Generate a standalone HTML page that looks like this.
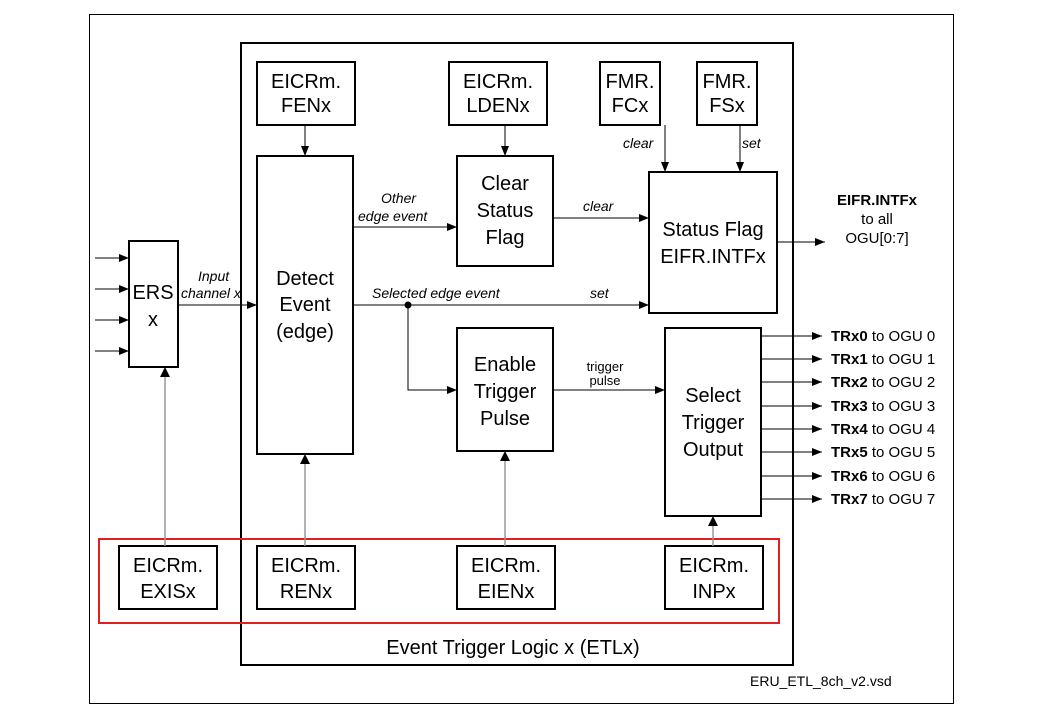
<!DOCTYPE html>
<html><head><style>
body{margin:0;background:#fff;}
svg text{font-family:"Liberation Sans",sans-serif;}
</style></head><body>
<svg width="1041" height="707" viewBox="0 0 1041 707" xmlns="http://www.w3.org/2000/svg">
<defs>
<marker id="a" markerWidth="10" markerHeight="8" refX="10" refY="4" orient="auto" markerUnits="userSpaceOnUse"><path d="M0,0 L10,4 L0,8z" fill="#000"/></marker>
</defs>
<rect x="89.5" y="14.5" width="864" height="689" fill="none" stroke="#000" stroke-width="1"/>
<rect x="241" y="43" width="552" height="622" fill="none" stroke="#000" stroke-width="2"/>
<rect x="99" y="539" width="680" height="84" fill="none" stroke="#e02020" stroke-width="2"/>
<g fill="#fff" stroke="#000" stroke-width="2">
<rect x="257" y="62" width="98" height="63"/>
<rect x="449" y="62" width="98" height="63"/>
<rect x="600" y="62" width="60" height="63"/>
<rect x="697" y="62" width="60" height="63"/>
<rect x="257" y="156" width="96" height="298"/>
<rect x="457" y="156" width="96" height="110"/>
<rect x="649" y="172" width="128" height="141"/>
<rect x="457" y="328" width="96" height="123"/>
<rect x="665" y="328" width="96" height="188"/>
<rect x="129" y="241" width="49" height="126"/>
<rect x="119" y="546" width="98" height="63"/>
<rect x="257" y="546" width="98" height="63"/>
<rect x="457" y="546" width="98" height="63"/>
<rect x="665" y="546" width="98" height="63"/>
</g>
<g stroke="#999" stroke-width="1.5">
<line x1="165" y1="546" x2="165" y2="377"/><line x1="305" y1="546" x2="305" y2="464"/><line x1="505" y1="546" x2="505" y2="461"/><line x1="713" y1="546" x2="713" y2="526"/>
</g>
<g fill="#000"><path d="M160,377 L165,367 L170,377z"/><path d="M300,464 L305,454 L310,464z"/><path d="M500,461 L505,451 L510,461z"/><path d="M708,526 L713,516 L718,526z"/></g>
<g stroke="#000" stroke-width="1" marker-end="url(#a)">
<line x1="95" y1="258" x2="129" y2="258"/><line x1="95" y1="289" x2="129" y2="289"/><line x1="95" y1="320" x2="129" y2="320"/><line x1="95" y1="351" x2="129" y2="351"/>
<line x1="178" y1="305" x2="257" y2="305"/>
<line x1="353" y1="227" x2="457" y2="227"/>
<line x1="553" y1="218" x2="649" y2="218"/>
<line x1="353" y1="305" x2="649" y2="305"/>
<polyline points="408,305 408,390 457,390" fill="none"/>
<line x1="553" y1="390" x2="665" y2="390"/>
<line x1="777" y1="242" x2="825" y2="242"/>
<line x1="305" y1="125" x2="305" y2="156"/><line x1="505" y1="125" x2="505" y2="156"/>
<line x1="665" y1="125" x2="665" y2="172"/><line x1="740" y1="125" x2="740" y2="172"/>
<line x1="761" y1="336" x2="822" y2="336"/><line x1="761" y1="359" x2="822" y2="359"/><line x1="761" y1="382" x2="822" y2="382"/><line x1="761" y1="406" x2="822" y2="406"/><line x1="761" y1="429" x2="822" y2="429"/><line x1="761" y1="452" x2="822" y2="452"/><line x1="761" y1="476" x2="822" y2="476"/><line x1="761" y1="499" x2="822" y2="499"/>
</g>
<circle cx="408" cy="305" r="3.5" fill="#000"/>
<g font-size="20" text-anchor="middle" fill="#000">
<text x="306" y="88">EICRm.</text><text x="306" y="112">FENx</text>
<text x="498" y="88">EICRm.</text><text x="498" y="112">LDENx</text>
<text x="630" y="88">FMR.</text><text x="630" y="112">FCx</text>
<text x="727" y="88">FMR.</text><text x="727" y="112">FSx</text>
<text x="505" y="190">Clear</text><text x="505" y="217">Status</text><text x="505" y="244">Flag</text>
<text x="305" y="285">Detect</text><text x="305" y="311">Event</text><text x="305" y="338">(edge)</text>
<text x="713" y="236">Status Flag</text><text x="713" y="263">EIFR.INTFx</text>
<text x="505" y="371">Enable</text><text x="505" y="398">Trigger</text><text x="505" y="425">Pulse</text>
<text x="713" y="402">Select</text><text x="713" y="429">Trigger</text><text x="713" y="456">Output</text>
<text x="153" y="299">ERS</text><text x="153" y="326">x</text>
<text x="168" y="572">EICRm.</text><text x="168" y="598">EXISx</text>
<text x="306" y="572">EICRm.</text><text x="306" y="598">RENx</text>
<text x="506" y="572">EICRm.</text><text x="506" y="598">EIENx</text>
<text x="714" y="572">EICRm.</text><text x="714" y="598">INPx</text>
<text x="513" y="654">Event Trigger Logic x (ETLx)</text>
</g>
<g font-size="14" font-style="italic" fill="#000">
<text x="198" y="281">Input</text><text x="181" y="298">channel x</text>
<text x="381" y="203">Other</text><text x="358" y="221">edge event</text>
<text x="583" y="211">clear</text>
<text x="372" y="298">Selected  edge event</text>
<text x="590" y="298">set</text>
<text x="623" y="148">clear</text>
<text x="742" y="148">set</text>
</g>
<g font-size="13" text-anchor="middle" fill="#000">
<text x="605" y="371">trigger</text><text x="605" y="385">pulse</text>
</g>
<g font-size="15" text-anchor="middle" fill="#000">
<text x="877" y="205" font-weight="bold">EIFR.INTFx</text>
<text x="877" y="224">to all</text>
<text x="877" y="243">OGU[0:7]</text>
</g>
<g font-size="15" fill="#000">
<text x="831" y="341"><tspan font-weight="bold">TRx0</tspan> to OGU 0</text>
<text x="831" y="364"><tspan font-weight="bold">TRx1</tspan> to OGU 1</text>
<text x="831" y="387"><tspan font-weight="bold">TRx2</tspan> to OGU 2</text>
<text x="831" y="411"><tspan font-weight="bold">TRx3</tspan> to OGU 3</text>
<text x="831" y="434"><tspan font-weight="bold">TRx4</tspan> to OGU 4</text>
<text x="831" y="457"><tspan font-weight="bold">TRx5</tspan> to OGU 5</text>
<text x="831" y="481"><tspan font-weight="bold">TRx6</tspan> to OGU 6</text>
<text x="831" y="504"><tspan font-weight="bold">TRx7</tspan> to OGU 7</text>
<text x="750" y="686" font-size="14">ERU_ETL_8ch_v2.vsd</text>
</g>
</svg>
</body></html>
